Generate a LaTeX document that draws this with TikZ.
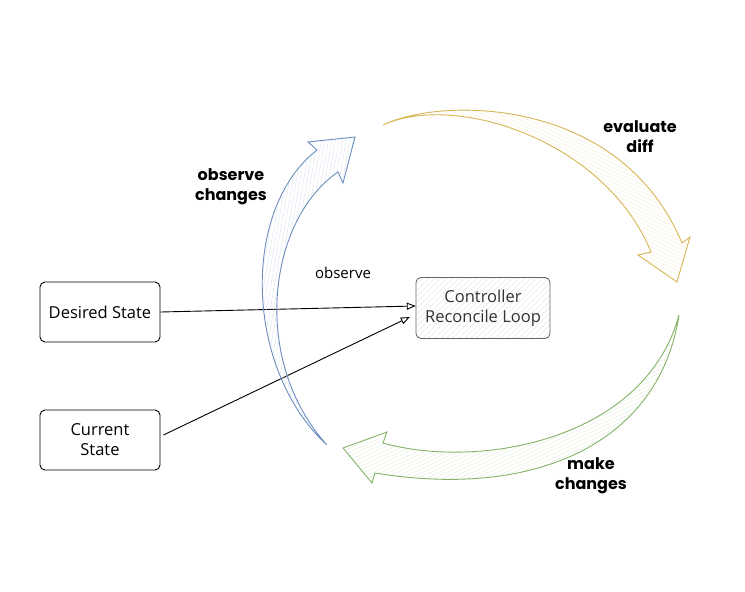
\documentclass[tikz,border=0pt]{standalone}
\usepackage{fontspec}
\setmainfont{Open Sans}
\newfontfamily\labelfont{Poppins}[UprightFont=* Bold]
\usetikzlibrary{arrows.meta,patterns.meta}
\definecolor{cblue}{HTML}{6C8EBF}
\definecolor{cyellow}{HTML}{D6B656}
\definecolor{cgreen}{HTML}{82B366}
\tikzset{
  statebox/.style={draw=black, line width=0.9pt, rounded corners=5pt, minimum width=120pt, minimum height=60pt, align=center, font=\fontsize{16.5pt}{20pt}\selectfont, inner sep=1pt},
  ctrlbox/.style={draw=black!60, line width=0.9pt, rounded corners=5pt, minimum width=134pt, minimum height=61pt, align=center, font=\fontsize{16.5pt}{20pt}\selectfont, text=black!80, inner sep=1pt, pattern={Lines[angle=45,distance=4pt,line width=0.4pt]}, pattern color=black!15},
  biglabel/.style={align=center, font=\labelfont\fontsize{16pt}{20pt}\selectfont},
  smalllabel/.style={font=\fontsize{15pt}{18pt}\selectfont},
  conn/.style={draw=black, line width=0.9pt, -{Triangle[open,length=9pt,width=7pt]}},
  bigarrow/.style={line width=0.9pt, line join=miter},
}
\begin{document}
\begin{tikzpicture}[x=1pt,y=-1pt]
\useasboundingbox (0,0) rectangle (745,592);
% boxes
\node[statebox] (D) at (100,312) {Desired State};
\node[statebox] (Cur) at (100,440) {Current\\State};
\node[ctrlbox] (C) at (483,308) {Controller\\Reconcile Loop};
% labels
\node[smalllabel] (obs) at (343,273) {observe};
\node[biglabel] (oc) at (231,187) {observe\\changes};
\node[biglabel] (ed) at (640,137) {evaluate\\diff};
\node[biglabel] (mc) at (591,476) {make\\changes};
% connectors
\draw[conn] (D.east) -- ([yshift=2pt]C.west);
\draw[conn] ([xshift=3pt,yshift=5pt]Cur.east) -- ([xshift=-6pt,yshift=-9pt]C.west);
% blue block arrow (observe changes)
\draw[bigarrow, draw=cblue, pattern={Lines[angle=80,distance=3.5pt,line width=0.4pt]}, pattern color=cblue!25]
  (327,445) .. controls (245,370) and (240,210) .. (317,150)
  -- (308,142) -- (355,137) -- (343,183) -- (338,172)
  .. controls (268,220) and (250,360) .. (327,445) -- cycle;
% yellow block arrow (evaluate diff)
\draw[bigarrow, draw=cyellow, pattern={Lines[angle=-25,distance=3.5pt,line width=0.4pt]}, pattern color=cyellow!25]
  (383,125) .. controls (440,97) and (620,95) .. (682,243)
  -- (690,237) -- (677,282) -- (638,255) -- (651,252)
  .. controls (605,140) and (455,92) .. (383,125) -- cycle;
% green block arrow (make changes)
\draw[bigarrow, draw=cgreen, pattern={Lines[angle=25,distance=3.5pt,line width=0.4pt]}, pattern color=cgreen!25]
  (679,315) .. controls (660,440) and (540,500) .. (375,473)
  -- (372,483) -- (343,448) -- (387,432) -- (383,443)
  .. controls (480,470) and (645,440) .. (679,315) -- cycle;
\end{tikzpicture}
\end{document}
